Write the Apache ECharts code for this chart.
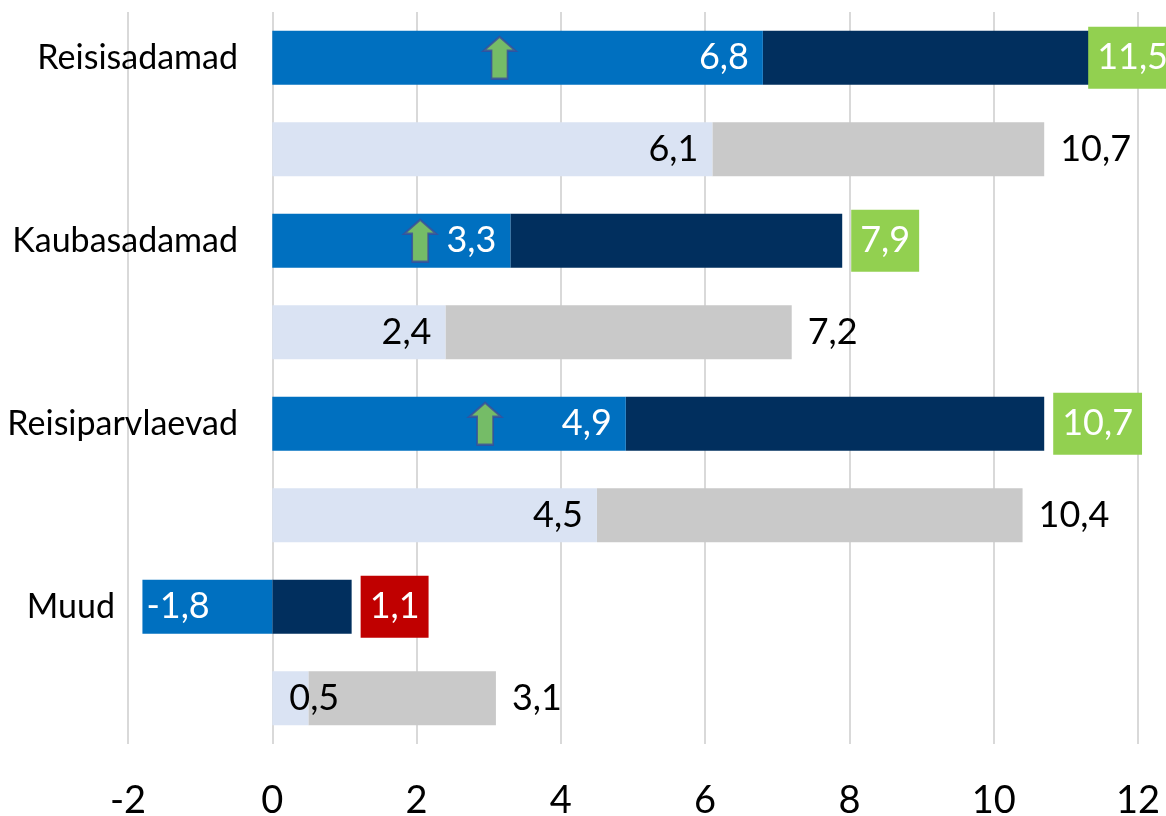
<!DOCTYPE html>
<html>
<head>
<meta charset="utf-8">
<script src="https://cdn.jsdelivr.net/npm/echarts@6/dist/echarts.min.js"></script>
<style>
  html, body { margin: 0; padding: 0; background: #fff; }
  #chart { width: 1166px; height: 816px; }
</style>
</head>
<body>
<div id="chart"></div>
<script>
// data
const groups     = ['Reisisadamad', 'Kaubasadamad', 'Reisiparvlaevad', 'Muud'];
const nowStart   = [6.8, 3.3, 4.9, -1.8];   // blue part, current
const nowTotal   = [11.5, 7.9, 10.7, 1.1];  // boxed totals
const prevStart  = [6.1, 2.4, 4.5, 0.5];    // light blue part, previous
const prevTotal  = [10.7, 7.2, 10.4, 3.1];  // grey totals
const arrowX     = [3.15, 2.05, 2.95, null]; // green "up" markers
const xMin = -2, xMax = 12, xStep = 2;

const FONT = 'Lato';
const C = {
  blue: '#0070C0', navy: '#012F5E', light: '#DAE3F3', grey: '#C9C9C9',
  up: '#92D050', down: '#C00000', grid: '#D9D9D9'
};
const fmt = v => String(v).replace('.', ',');

// two rows per group: current (dark) + previous (light)
const cats = [];
const firstPart = [];
const restPart = [];
groups.forEach((g, i) => {
  cats.push(g, g + '_prev');

  const cur = nowStart[i], tot = nowTotal[i];
  firstPart.push({
    value: cur,
    itemStyle: { color: C.blue },
    label: {
      color: '#fff',
      position: cur < 0 ? 'insideLeft' : 'insideRight',
      distance: cur < 0 ? 4 : 14
    }
  });
  restPart.push({
    value: cur > 0 ? tot - cur : tot,
    total: tot,
    itemStyle: { color: C.navy },
    label: {
      color: '#fff',
      distance: 9,
      backgroundColor: tot >= prevTotal[i] ? C.up : C.down,
      padding: [10, 9, 10, 9]
    }
  });

  // a very short bar can't hold its label, so it spills over to the right
  const tiny = prevStart[i] < 1;
  firstPart.push({
    value: prevStart[i],
    itemStyle: { color: C.light },
    label: { color: '#000', position: tiny ? 'insideLeft' : 'insideRight', distance: tiny ? 17 : 14 }
  });
  restPart.push({
    value: prevTotal[i] - prevStart[i],
    total: prevTotal[i],
    itemStyle: { color: C.grey },
    label: { color: '#000', distance: 16 }
  });
});

const arrows = arrowX
  .map((x, i) => x == null ? null : [x, groups[i]])
  .filter(Boolean);

const chart = echarts.init(document.getElementById('chart'), null, { renderer: 'canvas' });
chart.setOption({
  animation: false,
  grid: { left: 128, right: 28, top: 12, bottom: 72, containLabel: false, outerBoundsMode: 'none' },
  xAxis: {
    type: 'value',
    min: xMin, max: xMax, interval: xStep,
    axisLine: { show: false },
    axisTick: { show: false },
    axisLabel: {
      color: '#000', fontFamily: FONT, fontSize: 38, margin: 38,
      formatter: v => fmt(v)
    },
    splitLine: { show: true, lineStyle: { color: C.grid, width: 2 } }
  },
  yAxis: {
    type: 'category',
    inverse: true,
    data: cats,
    axisLine: { show: false },
    axisTick: { show: false },
    axisLabel: {
      // names sit just left of the zero line, inside the plot
      color: '#000', fontFamily: FONT, fontSize: 34, margin: -110,
      interval: 0,
      formatter: v => v.endsWith('_prev') ? '' : (v === 'Muud' ? '{t|Muud}{gap|}' : v),
      rich: {
        t: { color: '#000', fontFamily: FONT, fontSize: 34 },
        gap: { width: 123 }
      }
    }
  },
  series: [
    {
      type: 'bar',
      stack: 'row',
      barWidth: 54,
      data: firstPart,
      z: 3,
      label: {
        show: true, fontFamily: FONT, fontSize: 36,
        formatter: p => fmt(p.value)
      }
    },
    {
      type: 'bar',
      stack: 'row',
      barWidth: 54,
      data: restPart,
      z: 2,
      label: {
        show: true, position: 'right', fontFamily: FONT, fontSize: 36, lineHeight: 42,
        formatter: p => fmt(p.data.total)
      },
      // Excel pulls a label back inside when it would run off the chart
      labelLayout: p => {
        const r = p.labelRect;
        const lim = chart.getWidth() + 11;
        if (r.x + r.width > lim) return { dx: lim - r.x - r.width };
        return {};
      }
    },
    {
      type: 'scatter',
      z: 5,
      symbol: 'path://M16,0 L32,14 L24,14 L24,42 L8,42 L8,14 L0,14 Z',
      symbolSize: [32, 42],
      itemStyle: { color: C.up, borderColor: '#3A4E9A', borderWidth: 2 },
      data: arrows
    }
  ]
});
</script>
</body>
</html>
